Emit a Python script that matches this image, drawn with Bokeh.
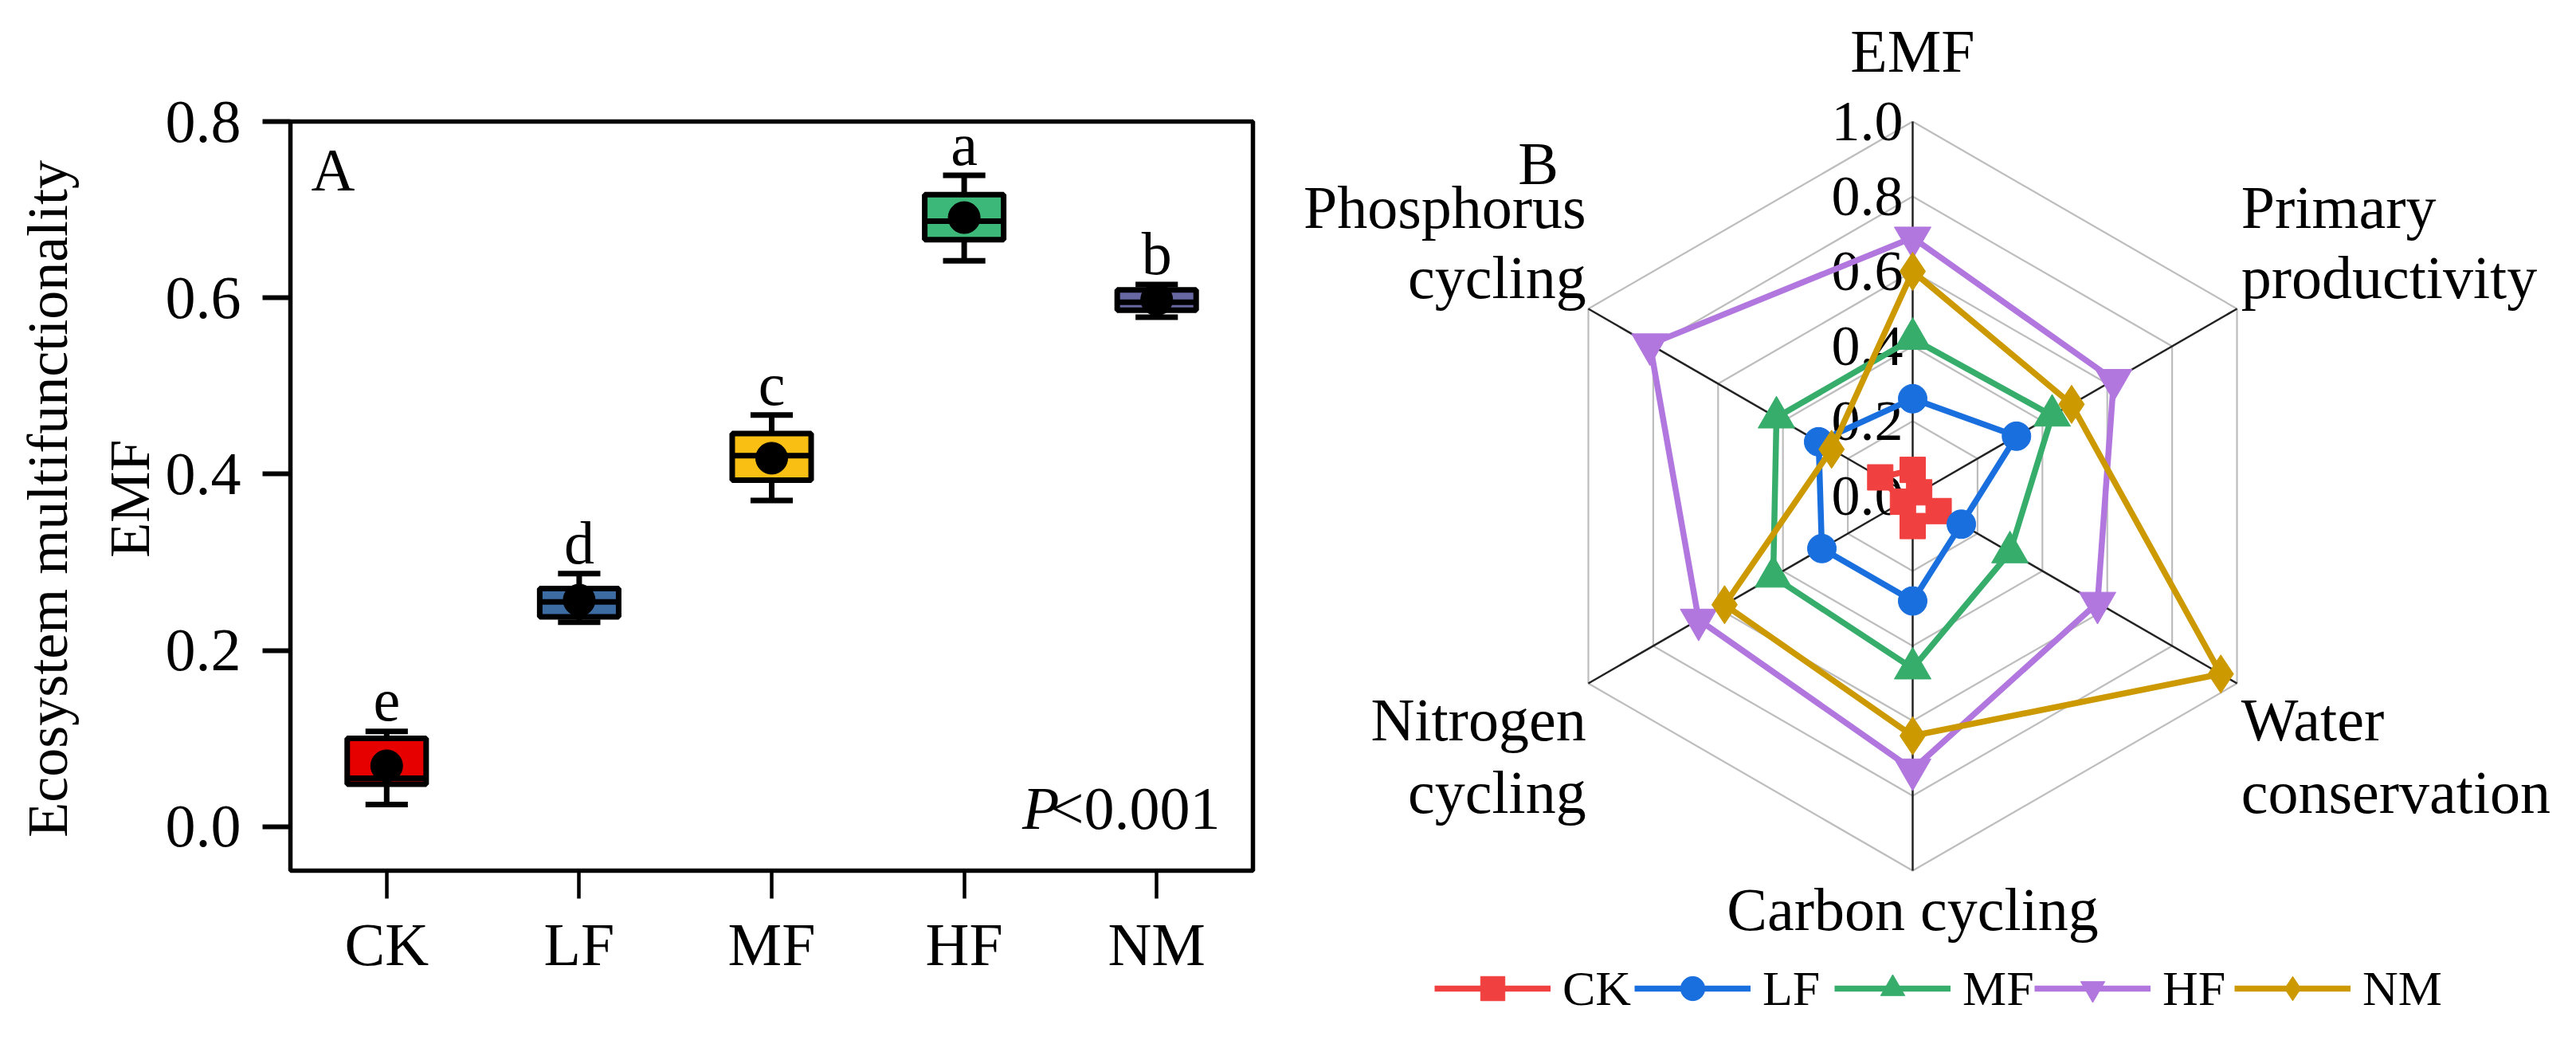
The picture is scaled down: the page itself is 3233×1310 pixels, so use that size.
import numpy as np
from bokeh.plotting import figure
from bokeh.models import (ColumnDataSource, Range1d, FixedTicker, PrintfTickFormatter,
                          LinearAxis, Legend, LegendItem)
from bokeh.embed import file_html
from bokeh.resources import INLINE
from bokeh.core.properties import value

# ---------------- data: panel A (box plot) ----------------
groups = ["CK", "LF", "MF", "HF", "NM"]
box_colors = ["#E60000", "#3D6CA3", "#F9C013", "#3CB878", "#6767A3"]
whisker_low = [0.025, 0.232, 0.370, 0.642, 0.578]
q1 = [0.048, 0.238, 0.393, 0.666, 0.586]
median = [0.055, 0.255, 0.421, 0.687, 0.595]
q3 = [0.100, 0.270, 0.446, 0.717, 0.609]
whisker_high = [0.108, 0.287, 0.467, 0.739, 0.615]
mean = [0.069, 0.257, 0.418, 0.691, 0.598]
letters = ["e", "d", "c", "a", "b"]
y_ticks = [0.0, 0.2, 0.4, 0.6, 0.8]
y_limits = (-0.05, 0.8)

# ---------------- data: panel B (radar) ----------------
functions = ["EMF", "Primary productivity", "Water conservation",
             "Carbon cycling", "Nitrogen cycling", "Phosphorus cycling"]
ck = [0.07, 0.02, 0.08, 0.08, 0.03, 0.10]
lf = [0.26, 0.32, 0.15, 0.28, 0.28, 0.29]
mf = [0.42, 0.43, 0.30, 0.46, 0.43, 0.42]
hf = [0.69, 0.62, 0.57, 0.73, 0.66, 0.81]
nm = [0.60, 0.49, 0.95, 0.64, 0.58, 0.25]
ring_levels = [0.0, 0.2, 0.4, 0.6, 0.8, 1.0]
series_names = ["CK", "LF", "MF", "HF", "NM"]
series_values = [ck, lf, mf, hf, nm]
series_colors = ["#F14040", "#1A6FDF", "#37AD6B", "#B177DE", "#CC9900"]

FONT = "Liberation Serif"

# ---------------- canvas layout (pixels inside the figure) ----------------
W, H = 3217, 1294
A_LEFT, A_RIGHT, A_TOP, A_BOTTOM = 364, 1572, 152, 1092      # panel A plotting box
R_CX, R_CY, R_PX = 2400, 622, 470                             # radar centre & radius

rx = Range1d(-R_CX / R_PX, (W - R_CX) / R_PX)
ry = Range1d(-(H - R_CY) / R_PX, R_CY / R_PX)

p = figure(width=W, height=H, x_range=rx, y_range=ry, output_backend="svg",
           toolbar_location=None, x_axis_location=None, y_axis_location=None,
           min_border=0, title=None)
p.grid.visible = False
p.outline_line_color = None
p.background_fill_color = "white"
p.border_fill_color = "white"

nG = len(groups)
ppx = (A_RIGHT - A_LEFT) / nG
ylo, yhi = y_limits
ppy = (A_BOTTOM - A_TOP) / (yhi - ylo)
p.extra_x_ranges = {"ax": Range1d(-A_LEFT / ppx, (W - A_LEFT) / ppx)}
p.extra_y_ranges = {"ay": Range1d(ylo - (H - A_BOTTOM) / ppy, yhi + A_TOP / ppy)}
AR = dict(x_range_name="ax", y_range_name="ay")

# ================= Panel A =================
xpos = np.arange(nG) + 0.5
label_y = [w + 0.035 for w in whisker_high]
srcA = ColumnDataSource(dict(x=xpos, color=box_colors, wl=whisker_low, q1=q1,
                             med=median, q3=q3, wh=whisker_high, mean=mean,
                             letter=letters, ly=label_y,
                             cl=xpos - 0.11, cr=xpos + 0.11,
                             bl=xpos - 0.205, br=xpos + 0.205))

p.quad(left=[0], right=[nG], bottom=[ylo], top=[yhi], fill_color=None,
       line_color="black", line_width=5.5, **AR)

LW = 7
p.segment(x0="x", x1="x", y0="wl", y1="q1", source=srcA, line_color="black", line_width=LW, **AR)
p.segment(x0="x", x1="x", y0="q3", y1="wh", source=srcA, line_color="black", line_width=LW, **AR)
p.segment(x0="cl", x1="cr", y0="wl", y1="wl", source=srcA, line_color="black", line_width=LW, **AR)
p.segment(x0="cl", x1="cr", y0="wh", y1="wh", source=srcA, line_color="black", line_width=LW, **AR)
p.vbar(x="x", bottom="q1", top="q3", width=0.41, source=srcA, fill_color="color",
       line_color="black", line_width=LW, **AR)
p.segment(x0="bl", x1="br", y0="med", y1="med", source=srcA, line_color="black",
          line_width=LW, **AR)
p.scatter(x="x", y="mean", source=srcA, size=40, fill_color="black", line_color="black", **AR)
p.text(x="x", y="ly", text="letter", source=srcA, text_align="center",
       text_baseline="middle", text_font=value(FONT), text_font_size=value("76px"),
       text_color="black", **AR)

def textA(x, y, t, align="left", style="normal", size="76px", angle=0.0):
    p.text(x=[x], y=[y], text=[t], angle=angle, text_align=align, text_baseline="middle",
           text_font=value(FONT), text_font_size=value(size), text_font_style=style,
           text_color="black", **AR)

textA(0.108, 0.745, "A")
textA(4.83, 0.021, "<0.001", align="right")
textA(3.994, 0.021, "P", align="right", style="italic")
textA(-1.26, 0.372, "Ecosystem multifunctionality", align="center", size="72px", angle=np.pi / 2)
textA(-0.836, 0.372, "EMF", align="center", size="72px", angle=np.pi / 2)

yax = LinearAxis(x_range_name="ax", y_range_name="ay", fixed_location=0,
                 ticker=FixedTicker(ticks=y_ticks),
                 formatter=PrintfTickFormatter(format="%.1f"))
xax = LinearAxis(x_range_name="ax", y_range_name="ay", fixed_location=ylo,
                 ticker=FixedTicker(ticks=list(xpos)),
                 major_label_overrides={float(x): g for x, g in zip(xpos, groups)})
for ax in (xax, yax):
    ax.axis_line_color = None
    ax.major_label_text_font = FONT
    ax.major_label_text_font_size = "76px"
    ax.major_label_text_color = "black"
    ax.major_tick_out = 35
    ax.major_tick_in = 0
    ax.minor_tick_out = 0
    ax.minor_tick_in = 0
    ax.major_tick_line_color = "black"
yax.major_tick_line_width = 6
yax.major_label_standoff = 27
xax.major_tick_line_width = 4.5
xax.major_label_standoff = 15
p.add_layout(yax, "left")
p.add_layout(xax, "below")

# ================= Panel B (radar) =================
theta = np.deg2rad(90 - 60 * np.arange(len(functions)))
cos_t, sin_t = np.cos(theta), np.sin(theta)

ring_xs, ring_ys = [], []
for lev in ring_levels[1:]:
    ring_xs.append(list(np.append(lev * cos_t, lev * cos_t[0])))
    ring_ys.append(list(np.append(lev * sin_t, lev * sin_t[0])))
p.multi_line(xs=ring_xs, ys=ring_ys, line_color="#BDBDBD", line_width=2.2)
p.segment(x0=np.zeros(len(functions)), y0=np.zeros(len(functions)),
          x1=cos_t, y1=sin_t, line_color="#222222", line_width=2.5)

p.text(x=[-0.0255] * len(ring_levels), y=ring_levels,
       text=["%.1f" % v for v in ring_levels], text_align="right", text_baseline="middle",
       text_font=value(FONT), text_font_size=value("72px"), text_color="black")

wrap = {"EMF": ["EMF"], "Primary productivity": ["Primary", "productivity"],
        "Water conservation": ["Water", "conservation"], "Carbon cycling": ["Carbon cycling"],
        "Nitrogen cycling": ["Nitrogen", "cycling"], "Phosphorus cycling": ["Phosphorus", "cycling"]}
anchor = {"EMF": (0.0, [1.188], "center"),
          "Primary productivity": (0.877, [0.772, 0.585], "left"),
          "Water conservation": (0.877, [-0.596, -0.791], "left"),
          "Carbon cycling": (0.0, [-1.104], "center"),
          "Nitrogen cycling": (-0.872, [-0.596, -0.791], "right"),
          "Phosphorus cycling": (-0.872, [0.772, 0.585], "right")}
for name in functions:
    ax_x, ys, al = anchor[name]
    lines = wrap[name]
    p.text(x=[ax_x] * len(lines), y=ys, text=lines, text_align=al,
           text_baseline="middle", text_font=value(FONT),
           text_font_size=value("76px"), text_color="black")
p.text(x=[-1.0], y=[0.889], text=["B"], text_align="center", text_baseline="middle",
       text_font=value(FONT), text_font_size=value("76px"), text_color="black")

markers = ["square", "circle", "triangle", "inverted_triangle", "diamond"]
msizes = [32, 36, 46, 46, 48]
legend_items = []
for name, vals, col, mk, ms in zip(series_names, series_values, series_colors,
                                   markers, msizes):
    v = np.array(vals)
    xs = v * cos_t
    ys = v * sin_t
    ln = p.line(x=list(np.append(xs, xs[0])), y=list(np.append(ys, ys[0])),
                line_color=col, line_width=7.5)
    sc = p.scatter(x=list(xs), y=list(ys), marker=mk, size=ms,
                   fill_color=col, line_color=col)
    legend_items.append(LegendItem(label=name, renderers=[ln, sc]))

legend = Legend(items=legend_items, orientation="horizontal", location=(1800, 16),
                glyph_width=146, glyph_height=76, label_standoff=15, spacing=0,
                label_width=90, label_height=40,
                padding=0, margin=0, border_line_color=None, background_fill_alpha=0,
                label_text_font=FONT, label_text_font_size="62px", label_text_color="black")
p.add_layout(legend)

open("out.html", "w").write(file_html(p, INLINE))
